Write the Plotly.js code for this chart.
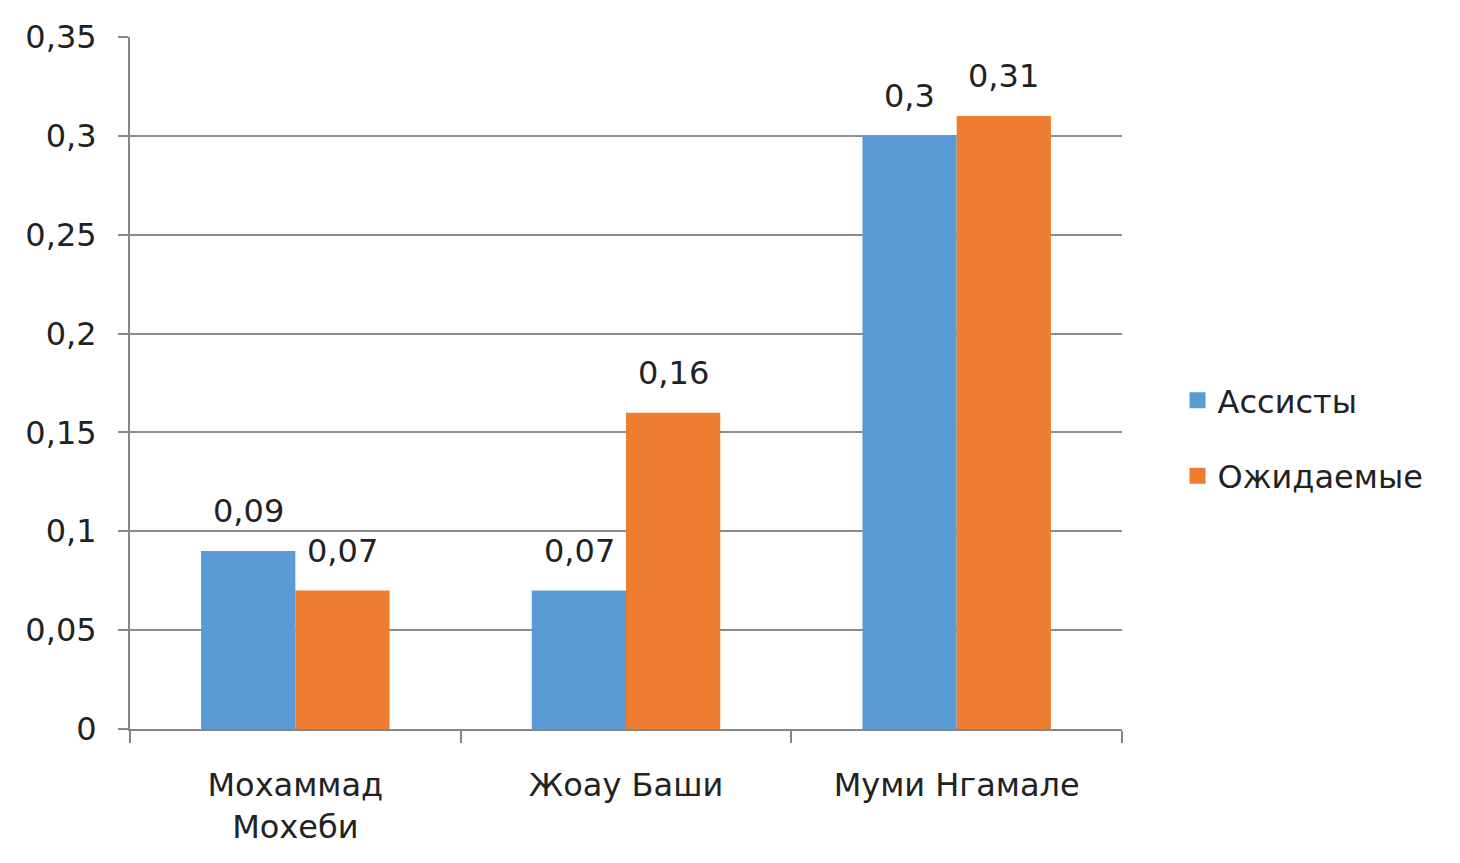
<!DOCTYPE html>
<html>
<head>
<meta charset="utf-8">
<script src="https://cdn.plot.ly/plotly-3.0.1.min.js"></script>
<style>html,body{margin:0;padding:0;background:#fff;}#chart{width:1460px;height:863px;}</style>
</head>
<body>
<div id="chart"></div>
<script>
const categories = ["Мохаммад<br>Мохеби", "Жоау Баши", "Муми Нгамале"];
const seriesNames = ["Ассисты", "Ожидаемые"];
const assists = [0.09, 0.07, 0.30];
const expected = [0.07, 0.16, 0.31];
const labelsAssists = ["0,09", "0,07", "0,3"];
const labelsExpected = ["0,07", "0,16", "0,31"];
const yTickVals = [0, 0.05, 0.1, 0.15, 0.2, 0.25, 0.3, 0.35];
const yTickText = ["0", "0,05", "0,1", "0,15", "0,2", "0,25", "0,3", "0,35"];

const FONT = "DejaVu Sans, Verdana, sans-serif";
const TXT = "#222222";
const FS = 32;
const COLORS = ["#5B9BD5", "#ED7D31"];

const traces = [
  {type: "bar", name: seriesNames[0], x: categories, y: assists, showlegend: false,
   marker: {color: COLORS[0]}, hoverinfo: "none"},
  {type: "bar", name: seriesNames[1], x: categories, y: expected, showlegend: false,
   marker: {color: COLORS[1]}, hoverinfo: "none"},
  // legend entries
  {type: "scatter", mode: "markers", name: seriesNames[0], x: [null], y: [null],
   legendgroup: "a", marker: {symbol: "square", size: 16, color: COLORS[0]}},
  {type: "scatter", mode: "markers", name: seriesNames[1], x: [null], y: [null],
   legendgroup: "b", marker: {symbol: "square", size: 16, color: COLORS[1]}}
];

const annotations = [];
const OFF = 47;
categories.forEach((c, i) => {
  annotations.push({x: c, y: assists[i], xref: "x", yref: "y", text: labelsAssists[i],
    showarrow: false, xshift: -OFF, yshift: 40, yanchor: "middle",
    font: {family: FONT, size: FS, color: TXT}});
  annotations.push({x: c, y: expected[i], xref: "x", yref: "y", text: labelsExpected[i],
    showarrow: false, xshift: OFF, yshift: 40, yanchor: "middle",
    font: {family: FONT, size: FS, color: TXT}});
});

const layout = {
  width: 1460, height: 863,
  margin: {l: 130, r: 338, t: 37, b: 134, pad: 0},
  paper_bgcolor: "#ffffff", plot_bgcolor: "#ffffff",
  font: {family: FONT, size: FS, color: TXT},
  barmode: "group", bargap: 0.43, bargroupgap: 0,
  showlegend: true,
  annotations: annotations,
  legend: {x: 1.056, xanchor: "left", y: 0.42, yanchor: "middle",
           font: {family: FONT, size: FS, color: TXT}, tracegroupgap: 31,
           traceorder: "grouped", itemwidth: 30, bgcolor: "rgba(0,0,0,0)"},
  xaxis: {type: "category", showgrid: false, showline: true, linecolor: "#868686", linewidth: 2,
          ticks: "outside", tickson: "boundaries", ticklen: 12, tickcolor: "#868686", tickwidth: 2,
          ticklabelstandoff: 27,
          tickfont: {family: FONT, size: FS, color: TXT}, zeroline: false},
  yaxis: {range: [0, 0.35], tickvals: yTickVals, ticktext: yTickText, showgrid: true,
          gridcolor: "#8c8c8c", gridwidth: 2, showline: true, linecolor: "#868686", linewidth: 2,
          ticks: "outside", ticklen: 10, tickcolor: "#868686", tickwidth: 2, zeroline: false,
          ticklabelstandoff: 15,
          tickfont: {family: FONT, size: FS, color: TXT}}
};

Plotly.newPlot("chart", traces, layout, {staticPlot: true, displayModeBar: false});
</script>
</body>
</html>
